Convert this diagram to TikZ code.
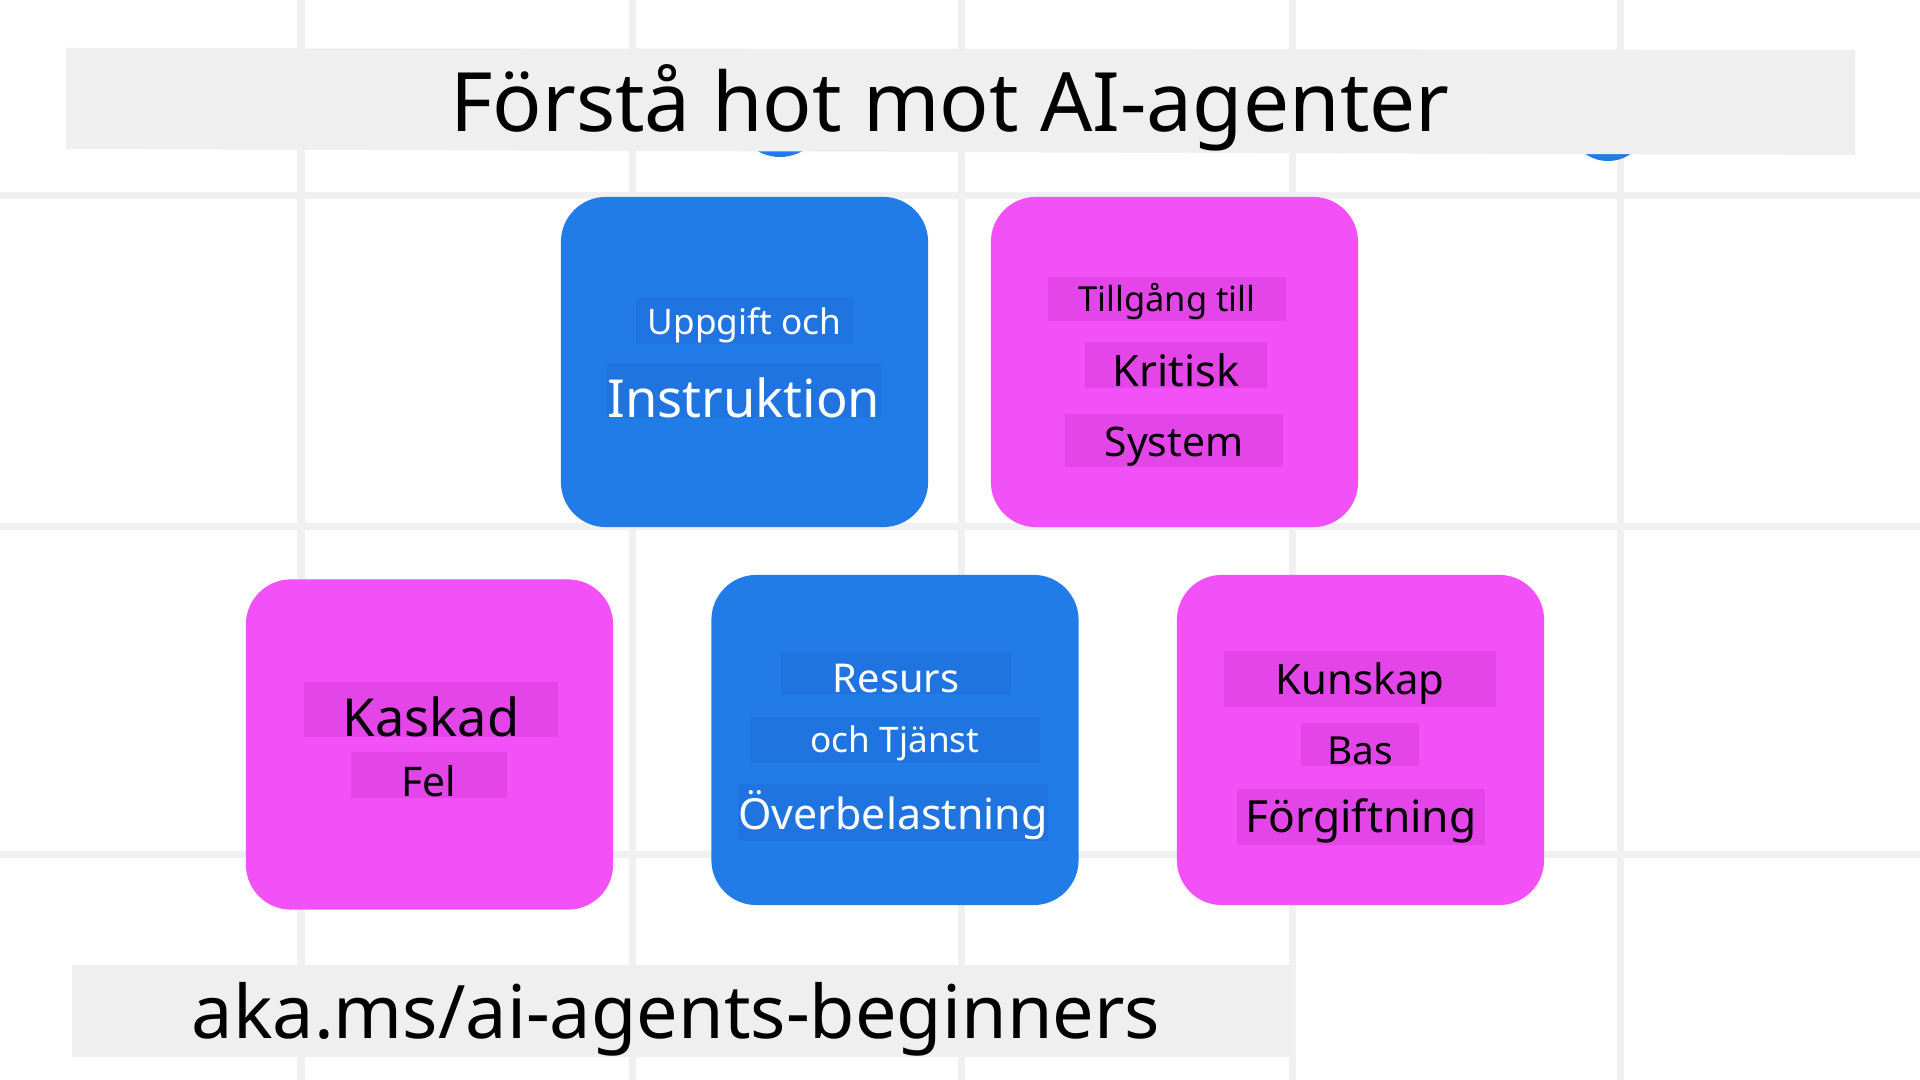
\documentclass[tikz,border=0pt]{standalone}
\usepackage{fontspec}
\setmainfont{Noto Sans}
\usepackage{tikz}
\usetikzlibrary{positioning}
\definecolor{tileblue}{HTML}{227CE8}
\definecolor{tilepink}{HTML}{F151F6}
\definecolor{lineblue}{HTML}{1F74DF}
\definecolor{linepink}{HTML}{E445E9}
\definecolor{gridgray}{HTML}{F0F0F0}
\definecolor{bargray}{HTML}{EFEFEF}

\begin{document}
\begin{tikzpicture}[x=0.01cm, y=-0.01cm,
	tile/.style={rounded corners=0.45cm, minimum width=3.67cm, minimum height=3.3cm, inner sep=0pt},
	bluetile/.style={tile, fill=tileblue},
	pinktile/.style={tile, fill=tilepink},
	word/.style={inner sep=0pt, anchor=base, text centered},
	blueword/.style={word, fill=lineblue, text=white},
	pinkword/.style={word, fill=linepink, text=black},
	bar/.style={fill=bargray, inner sep=0pt}]
	
	% Background and grid
	\useasboundingbox (0,0) rectangle (1920,1080);
	\fill[white] (0,0) rectangle (1920,1080);
	\foreach \gx in {301,632,961,1292,1620}
		\draw[gridgray, line width=0.07cm] (\gx,0) -- (\gx,1080);
	\foreach \gy in {196,527,855}
		\draw[gridgray, line width=0.07cm] (0,\gy) -- (1920,\gy);
	\fill[tileblue] (780,112) circle (0.45cm);
	\fill[tileblue] (1608,121) circle (0.4cm);
	
	% Title
	\fill[bargray] (66,48) -- (1855,50) -- (1855,155) -- (66,149) -- cycle;
	\node (title) [anchor=base, inner sep=0pt] at (950,132) {\fontsize{23.3}{28}\selectfont Förstå hot mot AI-agenter};
	
	% Draw tiles
	\node (task) [bluetile] at (744.5,362) {};
	\node (access) [pinktile] at (1174.5,362) {};
	\node (cascade) [pinktile] at (429.5,744.5) {};
	\node (overload) [bluetile] at (895,740) {};
	\node (poison) [pinktile] at (1360.5,740) {};
	
	% Draw words
	\node (task1) [blueword, minimum width=2.17cm, text height=0.37cm, text depth=0.09cm] at (744.5,335) {\fontsize{10}{12}\selectfont Uppgift och};
	\node (task2) [blueword, minimum width=2.74cm, text height=0.55cm, text depth=0cm] at (744,418) {\fontsize{14.9}{18}\selectfont Instruktion};
	
	\node (access1) [pinkword, minimum width=2.38cm, text height=0.35cm, text depth=0.09cm] at (1167,312) {\fontsize{9.8}{12}\selectfont Tillgång till};
	\node (access2) [pinkword, minimum width=1.81cm, text height=0.45cm, text depth=0.01cm] at (1176,387) {\fontsize{12.3}{15}\selectfont Kritisk};
	\node (access3) [pinkword, minimum width=2.17cm, text height=0.43cm, text depth=0.10cm] at (1174,457) {\fontsize{11.6}{14}\selectfont System};
	
	\node (cascade1) [pinkword, minimum width=2.54cm, text height=0.55cm, text depth=0cm] at (431,737) {\fontsize{14.9}{18}\selectfont Kaskad};
	\node (cascade2) [pinkword, minimum width=1.56cm, text height=0.45cm, text depth=0.01cm] at (429,797) {\fontsize{11.6}{14}\selectfont Fel};
	
	\node (overload1) [blueword, minimum width=2.30cm, text height=0.41cm, text depth=0.01cm] at (896,693) {\fontsize{11.3}{14}\selectfont Resurs};
	\node (overload2) [blueword, minimum width=2.89cm, text height=0.36cm, text depth=0.10cm] at (895,753) {\fontsize{10}{12}\selectfont och Tjänst};
	\node (overload3) [blueword, minimum width=3.07cm, text height=0.46cm, text depth=0.11cm] at (893,830) {\fontsize{12.2}{15}\selectfont Överbelastning};
	
	\node (poison1) [pinkword, minimum width=2.72cm, text height=0.44cm, text depth=0.12cm] at (1360,695) {\fontsize{11.9}{14}\selectfont Kunskap};
	\node (poison2) [pinkword, minimum width=1.17cm, text height=0.42cm, text depth=0.01cm] at (1360,765) {\fontsize{11}{13}\selectfont Bas};
	\node (poison3) [pinkword, minimum width=2.48cm, text height=0.44cm, text depth=0.12cm] at (1361,833) {\fontsize{12.6}{15}\selectfont Förgiftning};
	
	% Link bar
	\node (linkbar) [bar, minimum width=12.2cm, minimum height=0.92cm] at (682,1011) {};
	\node (link) [anchor=base, inner sep=0pt] at (676,1039) {\fontsize{21}{26}\selectfont aka.ms/ai-agents-beginners};
	
\end{tikzpicture}
\end{document}
